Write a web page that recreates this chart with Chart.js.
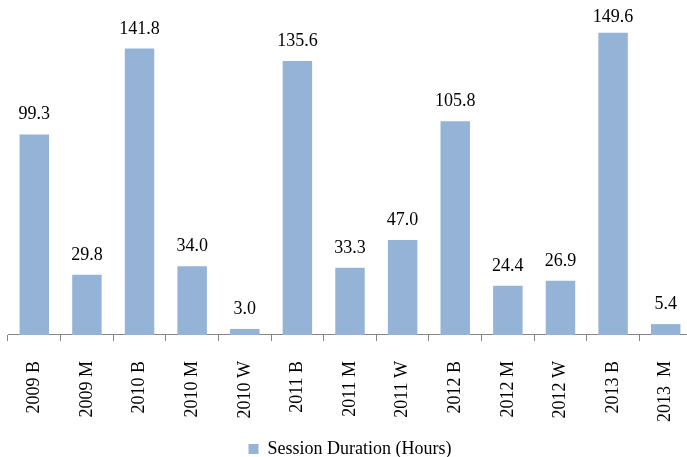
<!DOCTYPE html>
<html>
<head>
<meta charset="utf-8">
<script src="https://cdn.jsdelivr.net/npm/chart.js@4"></script>
<style>
    html, body { margin: 0; padding: 0; background: #ffffff; overflow: hidden; }
    #wrap { width: 692px; height: 457px; }
</style>
</head>
<body>
<div id="wrap"><canvas id="durationChart"></canvas></div>
<script>
const categories = ['2009 B', '2009 M', '2010 B', '2010 M', '2010 W', '2011 B', '2011 M',
    '2011 W', '2012 B', '2012 M', '2012 W', '2013 B', '2013  M'];
const durationHours = [99.3, 29.8, 141.8, 34.0, 3.0, 135.6, 33.3, 47.0, 105.8, 24.4, 26.9, 149.6, 5.4];
const seriesName = 'Session Duration (Hours)';

const serif = "'Liberation Serif', 'Times New Roman', serif";

// prints the value above each bar (kept inside the canvas like excel does)
const valueLabels = {
    id: 'valueLabels',
    afterDatasetsDraw(chart) {
        const ctx = chart.ctx;
        const meta = chart.getDatasetMeta(0);
        ctx.save();
        ctx.font = '18px ' + serif;
        ctx.fillStyle = '#000000';
        ctx.textAlign = 'center';
        ctx.textBaseline = 'alphabetic';
        meta.data.forEach((bar, i) => {
            const y = Math.max(bar.y - 15, 22);
            ctx.fillText(durationHours[i].toFixed(1), bar.x, y);
        });
        ctx.restore();
    }
};

new Chart(document.getElementById('durationChart'), {
    type: 'bar',
    data: {
        labels: categories,
        datasets: [{
            label: seriesName,
            data: durationHours,
            backgroundColor: '#95b3d7',
            borderWidth: 0,
            categoryPercentage: 1,
            barPercentage: 0.56
        }]
    },
    options: {
        responsive: true,
        maintainAspectRatio: false,
        animation: false,
        layout: {
            padding: { top: 32, left: 8, right: 0, bottom: -11 }
        },
        plugins: {
            legend: {
                position: 'bottom',
                labels: {
                    color: '#000000',
                    font: { family: serif, size: 18 },
                    boxWidth: 10,
                    boxHeight: 10,
                    padding: 2
                }
            },
            tooltip: { enabled: false }
        },
        scales: {
            y: {
                display: false,
                min: 0,
                max: 150
            },
            x: {
                offset: true,
                border: { display: true, color: '#868686', width: 1 },
                grid: {
                    display: true,
                    offset: true,
                    drawOnChartArea: false,
                    drawTicks: true,
                    tickLength: 6,
                    color: '#868686'
                },
                ticks: {
                    color: '#000000',
                    font: { family: serif, size: 18 },
                    minRotation: 90,
                    maxRotation: 90,
                    padding: 20,
                    autoSkip: false
                },
                afterFit(scale) {
                    scale.paddingLeft = 0;
                    scale.paddingRight = 0;
                    scale.height -= 4;
                }
            }
        }
    },
    plugins: [valueLabels]
});
</script>
</body>
</html>
